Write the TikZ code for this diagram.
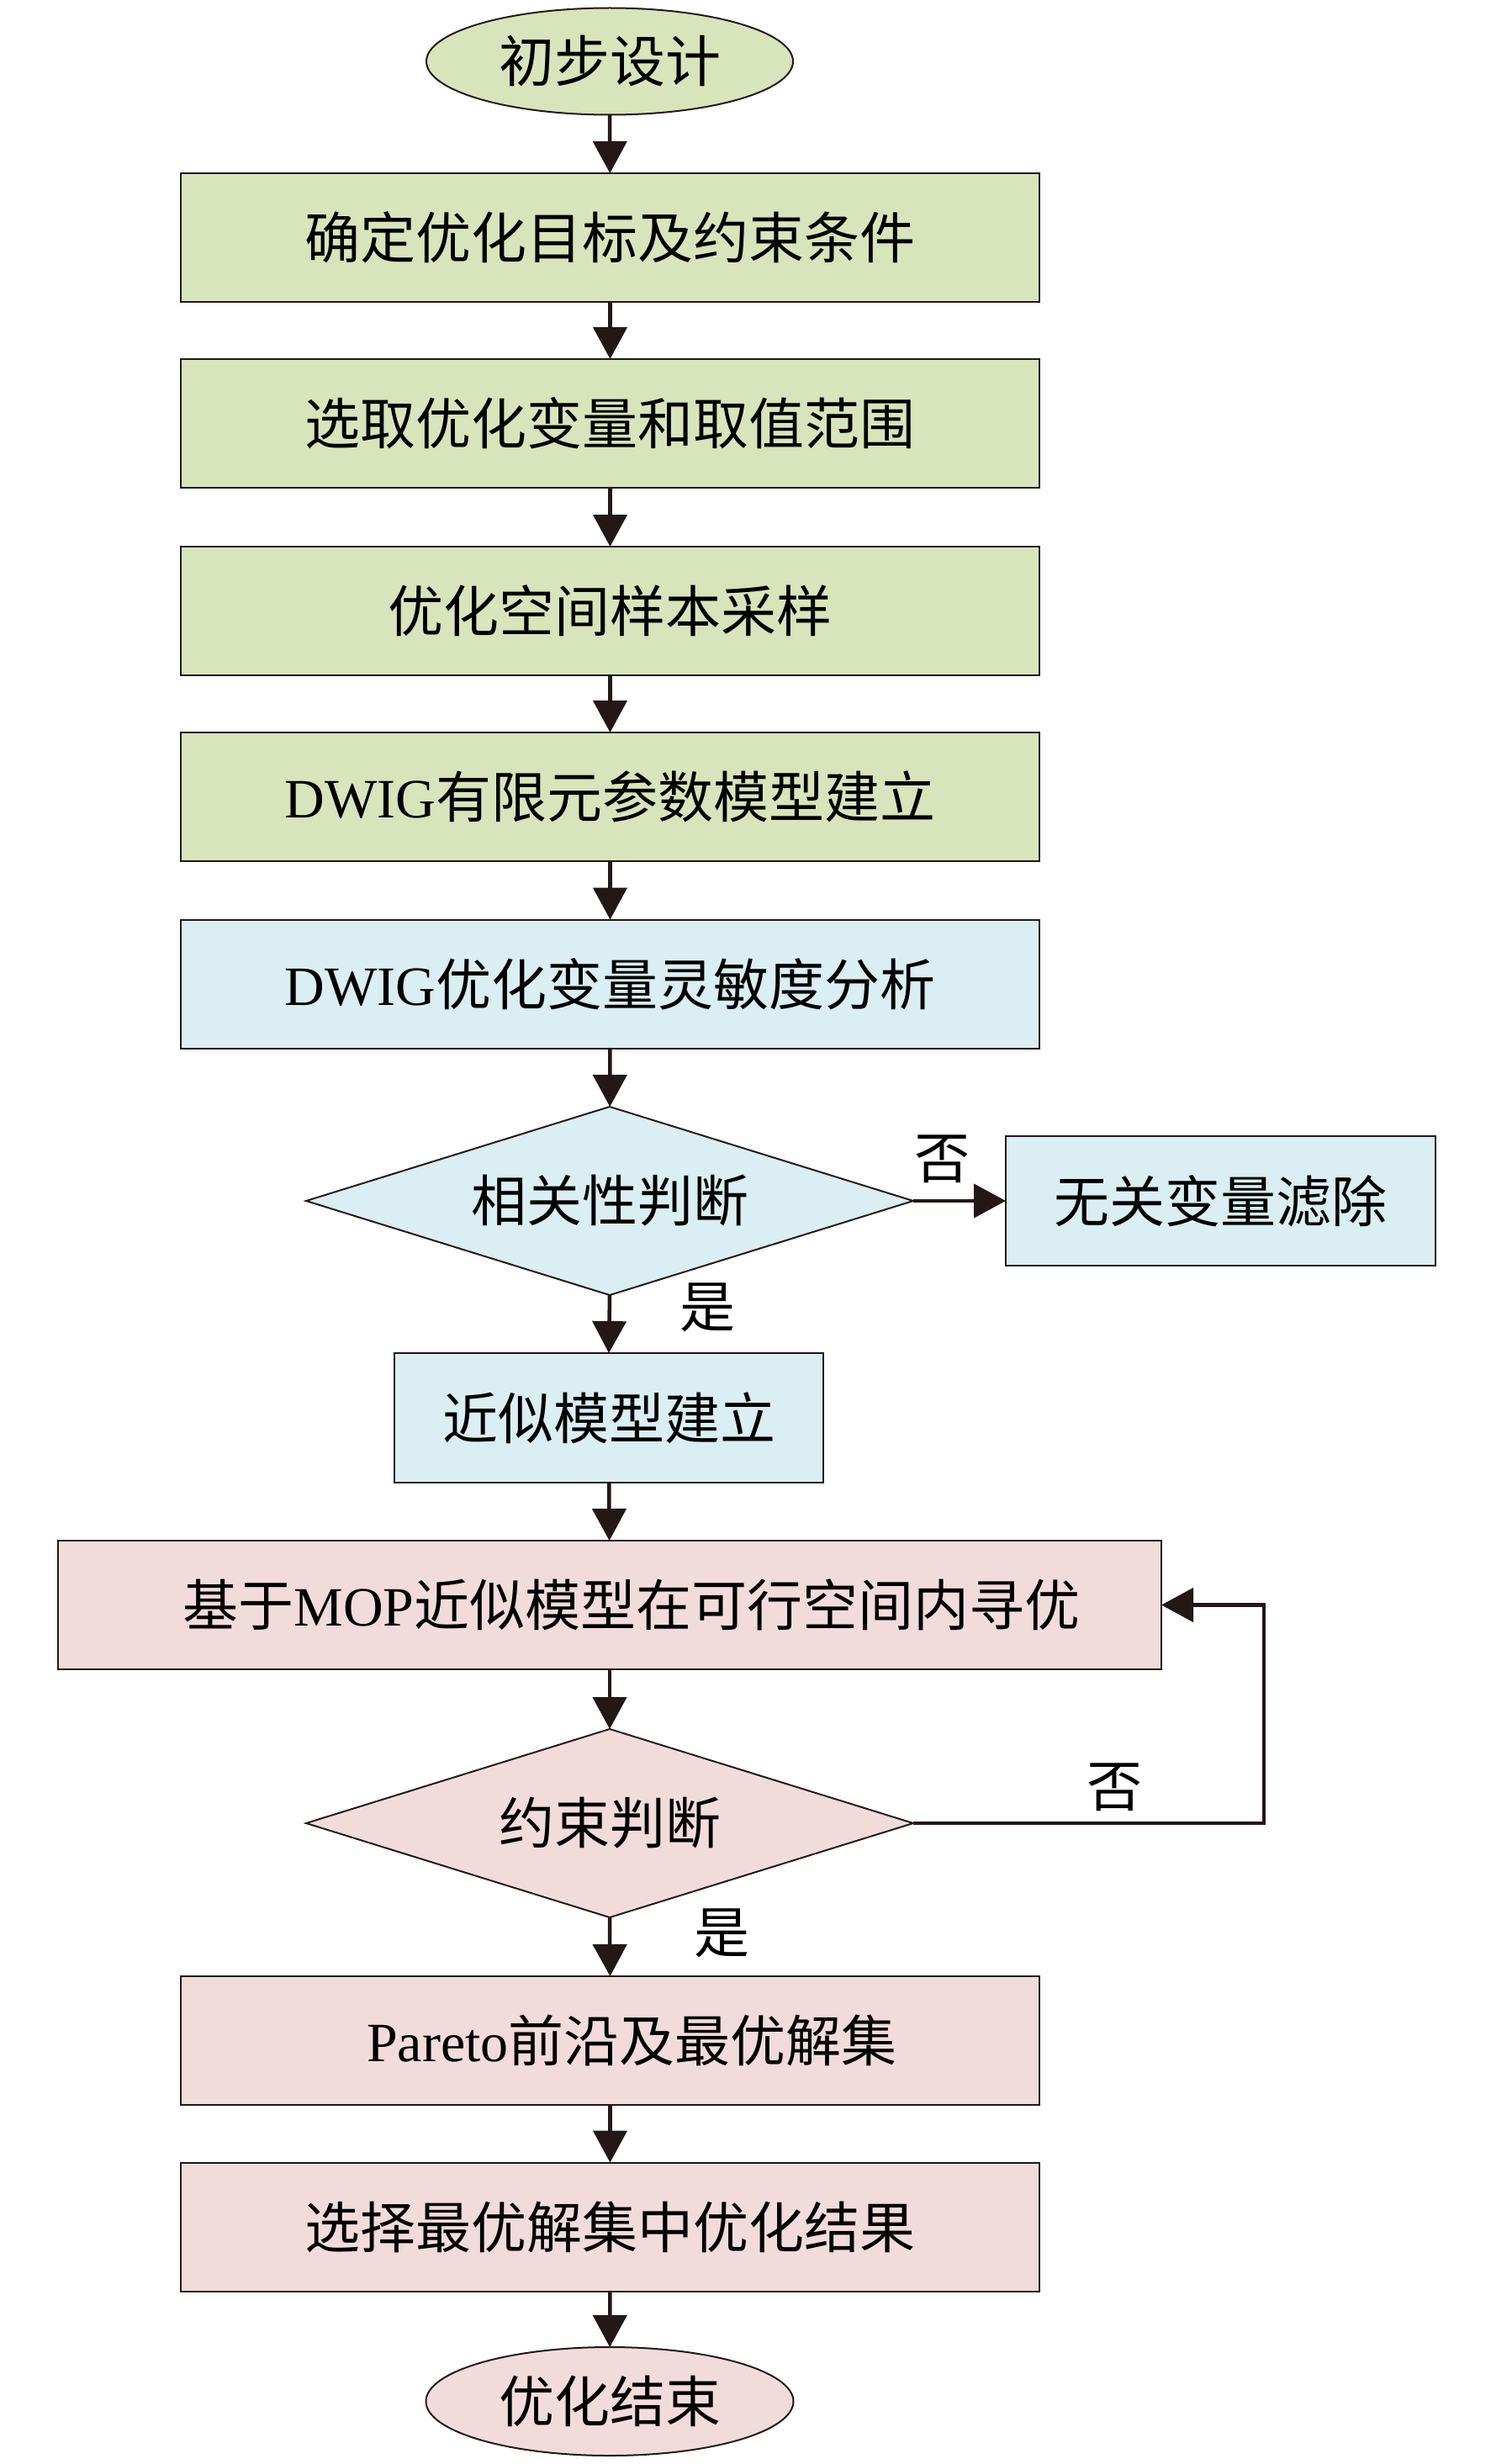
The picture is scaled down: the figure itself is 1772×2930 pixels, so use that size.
\documentclass[tikz,border=0pt]{standalone}
\usepackage{fontspec}
\setmainfont{Liberation Serif}
\newfontfamily\cjk{Noto Sans CJK SC}
\usetikzlibrary{shapes.geometric,arrows.meta}
\definecolor{gfill}{HTML}{D8E4BC}
\definecolor{bfill}{HTML}{DAEEF3}
\definecolor{pfill}{HTML}{F2DCDB}
\definecolor{ink}{HTML}{231815}
\tikzset{
  basefont/.style={font=\fontsize{66}{72}\selectfont, text=black},
  stepbox/.style={basefont, rectangle, draw=ink, line width=2pt, minimum height=153pt, inner sep=0pt, outer sep=0pt},
  termnode/.style={basefont, ellipse, draw=ink, line width=2pt, minimum width=436pt, minimum height=127pt, inner sep=0pt, outer sep=0pt},
  decide/.style={basefont, diamond, aspect=3.22, draw=ink, line width=2pt, minimum width=722pt, minimum height=224pt, inner sep=0pt, outer sep=0pt},
  flow/.style={draw=ink, line width=4.5pt, -{Triangle[length=38pt,width=40pt]}},
  lbl/.style={basefont, inner sep=0pt}
}
\begin{document}
\begin{tikzpicture}[x=1pt,y=-1pt]
\useasboundingbox (0,0) rectangle (1772,2930);
\node[termnode, fill=gfill] (start) at (725,73) {\cjk 初步设计};
\node[stepbox, fill=gfill, minimum width=1021pt] (b1) at (725.5,282.5) {\cjk 确定优化目标及约束条件};
\node[stepbox, fill=gfill, minimum width=1021pt] (b2) at (725.5,503.5) {\cjk 选取优化变量和取值范围};
\node[stepbox, fill=gfill, minimum width=1021pt] (b3) at (725.5,726.5) {\cjk 优化空间样本采样};
\node[stepbox, fill=gfill, minimum width=1021pt] (b4) at (725.5,947.5) {DWIG{\cjk 有限元参数模型建立}};
\node[stepbox, fill=bfill, minimum width=1021pt] (b5) at (725.5,1170) {DWIG{\cjk 优化变量灵敏度分析}};
\node[decide, fill=bfill] (d1) at (725,1428) {\cjk 相关性判断};
\node[stepbox, fill=bfill, minimum width=511pt, minimum height=154pt] (rb) at (1451.5,1428) {\cjk 无关变量滤除};
\node[stepbox, fill=bfill, minimum width=510pt, minimum height=154pt] (b6) at (724,1686) {\cjk 近似模型建立};
\node[stepbox, fill=pfill, minimum width=1312pt] (b7) at (725,1908.5) {\hspace*{52pt}{\cjk 基于}MOP{\cjk 近似模型在可行空间内寻优}};
\node[decide, fill=pfill] (d2) at (725,2168) {\cjk 约束判断};
\node[stepbox, fill=pfill, minimum width=1021pt] (b8) at (725.5,2426.5) {\hspace*{52pt}Pareto{\cjk 前沿及最优解集}};
\node[stepbox, fill=pfill, minimum width=1021pt] (b9) at (725.5,2648) {\cjk 选择最优解集中优化结果};
\node[termnode, fill=pfill, minimum width=437pt, minimum height=129pt] (end) at (725,2855.5) {\cjk 优化结束};
\coordinate (fb1) at (1503,2168);
\coordinate (fb2) at (1503,1908.5);
\draw[flow] (start) -- (b1);
\draw[flow] (b1) -- (b2);
\draw[flow] (b2) -- (b3);
\draw[flow] (b3) -- (b4);
\draw[flow] (b4) -- (b5);
\draw[flow] (b5) -- (d1);
\draw[flow] (d1.east) -- (rb.west);
\draw[flow] (d1.south) -- (b6.north);
\draw[flow] (b6) -- (b7);
\draw[flow] (b7) -- (d2);
\draw[flow] (d2.east) -- (fb1) -- (fb2) -- (b7.east);
\draw[flow] (d2.south) -- (b8.north);
\draw[flow] (b8) -- (b9);
\draw[flow] (b9) -- (end);
\node[lbl] (no1) at (1120,1378) {\cjk 否};
\node[lbl] (yes1) at (841,1555) {\cjk 是};
\node[lbl] (no2) at (1325,2125) {\cjk 否};
\node[lbl] (yes2) at (858,2299) {\cjk 是};
\end{tikzpicture}
\end{document}
